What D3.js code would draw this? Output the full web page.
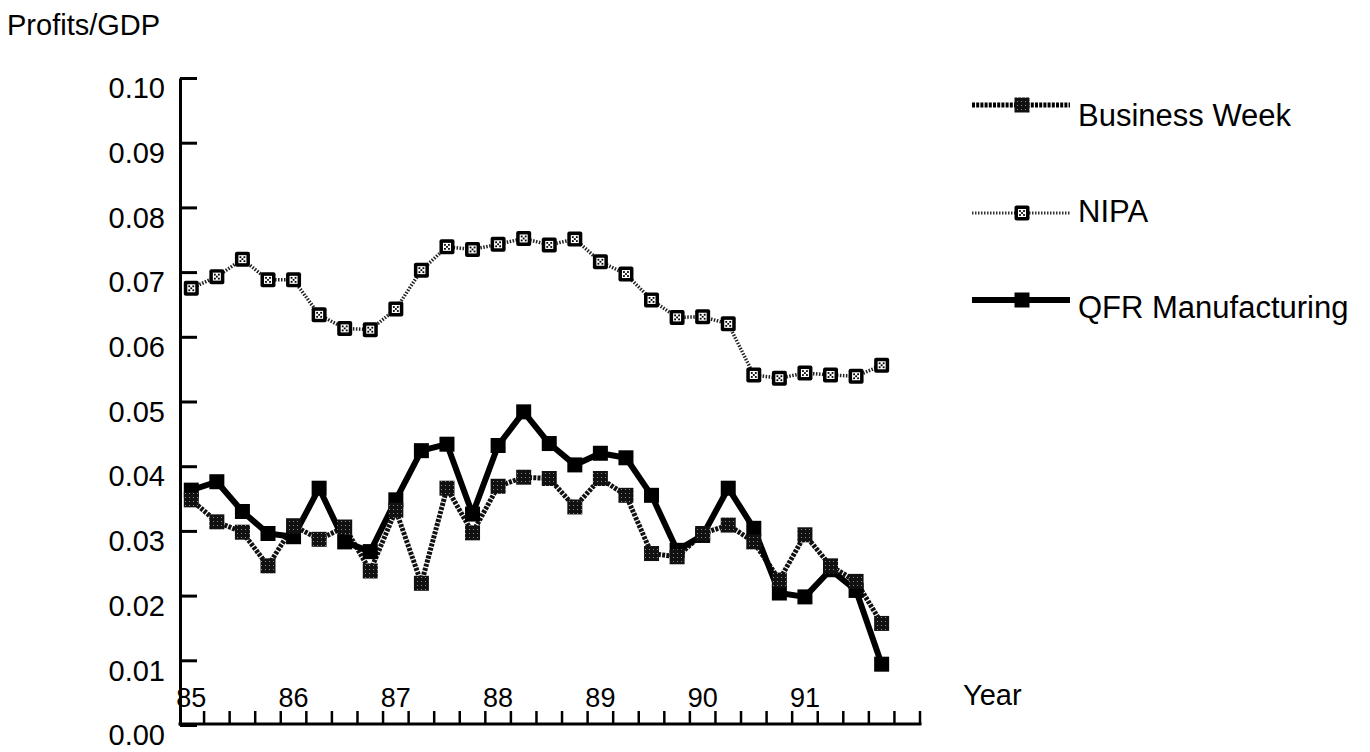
<!DOCTYPE html>
<html>
<head>
<meta charset="utf-8">
<script src="https://cdn.jsdelivr.net/npm/d3@7"></script>
<style>
  body { margin: 0; background: #fff; }
  text { font-family: "Liberation Sans", Arial, sans-serif; fill: #000; }
</style>
</head>
<body>
<div id="graph"></div>
<script>
// quarters 85Q1 .. 92Q1 (last one has no data)
var quarters = ["85Q1","85Q2","85Q3","85Q4","86Q1","86Q2","86Q3","86Q4",
  "87Q1","87Q2","87Q3","87Q4","88Q1","88Q2","88Q3","88Q4",
  "89Q1","89Q2","89Q3","89Q4","90Q1","90Q2","90Q3","90Q4",
  "91Q1","91Q2","91Q3","91Q4","92Q1"];
var yearLabels = ["85","86","87","88","89","90","91"];
var yTicks = [0.00,0.01,0.02,0.03,0.04,0.05,0.06,0.07,0.08,0.09,0.10];

var nipa = [0.0675,0.0693,0.0720,0.0688,0.0688,0.0634,0.0613,0.0611,
  0.0643,0.0703,0.0739,0.0735,0.0743,0.0752,0.0742,0.0751,
  0.0716,0.0697,0.0657,0.0630,0.0631,0.0620,0.0541,0.0536,
  0.0544,0.0541,0.0539,0.0556];
var businessWeek = [0.0348,0.0314,0.0298,0.0246,0.0308,0.0287,0.0306,0.0238,
  0.0332,0.0219,0.0366,0.0297,0.0369,0.0383,0.0381,0.0337,
  0.0381,0.0355,0.0265,0.0260,0.0296,0.0309,0.0283,0.0224,
  0.0294,0.0246,0.0222,0.0157];
var qfr = [0.0363,0.0376,0.0330,0.0296,0.0291,0.0366,0.0283,0.0268,
  0.0348,0.0424,0.0434,0.0326,0.0432,0.0484,0.0435,0.0402,
  0.0420,0.0413,0.0355,0.0270,0.0293,0.0366,0.0304,0.0204,
  0.0198,0.0240,0.0208,0.0094];
var seriesNames = ["Business Week","NIPA","QFR Manufacturing"];

var svg = d3.select("#graph").append("svg")
  .attr("width", 1370)
  .attr("height", 752);

var defs = svg.append("defs");
var speck = defs.append("pattern")
  .attr("id","speck").attr("patternUnits","userSpaceOnUse")
  .attr("width",4).attr("height",4);
speck.append("rect").attr("width",4).attr("height",4).attr("fill","#111");
speck.append("rect").attr("x",1).attr("y",1).attr("width",1).attr("height",1).attr("fill","#888");

var x = d3.scaleBand().domain(quarters).range([178.5, 920]).padding(0);
var y = d3.scaleLinear().domain([0, 0.10]).range([725, 78]);
var cx = function(i){ return x(quarters[i]) + x.bandwidth()/2; };

// y axis, ticks pointing inward
var yAxis = svg.append("g")
  .attr("transform","translate(180,0)")
  .call(d3.axisLeft(y).tickValues(yTicks).tickSize(-17).tickSizeOuter(0)
    .tickPadding(15).tickFormat(d3.format(".2f")));
yAxis.select(".domain").attr("stroke","#000").attr("stroke-width",3);
yAxis.selectAll(".tick line").attr("stroke","#000").attr("stroke-width",3);
yAxis.selectAll(".tick text")
  .attr("dy","0.68em")
  .style("font-size","29px")
  .style("font-family","'Liberation Sans', Arial, sans-serif");

// x axis baseline and ticks between quarters
svg.append("line")
  .attr("x1",178.5).attr("x2",921.5)
  .attr("y1",724).attr("y2",724)
  .attr("stroke","#000").attr("stroke-width",3);
svg.selectAll(".xtick")
  .data(quarters)
  .enter().append("line")
  .attr("class","xtick")
  .attr("x1",function(d){ return x(d) + x.bandwidth(); })
  .attr("x2",function(d){ return x(d) + x.bandwidth(); })
  .attr("y1",724).attr("y2",711)
  .attr("stroke","#000").attr("stroke-width",2.5);

svg.selectAll(".year")
  .data(yearLabels)
  .enter().append("text")
  .attr("class","year")
  .attr("x",function(d){ return x(d + "Q1") + x.bandwidth()/2; })
  .attr("y",707)
  .attr("text-anchor","middle")
  .style("font-size","27px")
  .text(function(d){ return d; });

svg.append("text").attr("x",963).attr("y",705)
  .style("font-size","29px").text("Year");
svg.append("text").attr("x",7).attr("y",35)
  .style("font-size","29px").text("Profits/GDP");

var line = d3.line()
  .x(function(d,i){ return cx(i); })
  .y(function(d){ return y(d); });

svg.append("path").datum(nipa)
  .attr("d",line).attr("fill","none")
  .attr("stroke","#222").attr("stroke-width",3.5)
  .attr("stroke-dasharray","1.5,1.5");
svg.append("path").datum(businessWeek)
  .attr("d",line).attr("fill","none")
  .attr("stroke","#111").attr("stroke-width",5)
  .attr("stroke-dasharray","3,1.2");
svg.append("path").datum(qfr)
  .attr("d",line).attr("fill","none")
  .attr("stroke","#000").attr("stroke-width",6)
  .attr("stroke-linejoin","round");

function nipaMark(g){
  g.append("rect").attr("x",-7.5).attr("y",-7.5).attr("width",15).attr("height",15)
    .attr("rx",2).attr("fill","#000");
  g.append("rect").attr("x",-4).attr("y",-4).attr("width",8).attr("height",8)
    .attr("fill","#fff");
  [[-2,-2],[2,-2],[0,0],[-2,2],[2,2]].forEach(function(p){
    g.append("rect").attr("x",p[0]-0.9).attr("y",p[1]-0.9)
      .attr("width",1.8).attr("height",1.8).attr("fill","#000");
  });
}

svg.selectAll(".nipa")
  .data(nipa)
  .enter().append("g")
  .attr("class","nipa")
  .attr("transform",function(d,i){ return "translate(" + cx(i) + "," + y(d) + ")"; })
  .each(function(){ nipaMark(d3.select(this)); });

svg.selectAll(".qfr")
  .data(qfr)
  .enter().append("rect")
  .attr("class","qfr")
  .attr("x",function(d,i){ return cx(i) - 7.5; })
  .attr("y",function(d){ return y(d) - 7.5; })
  .attr("width",15).attr("height",15)
  .attr("fill","#000");

svg.selectAll(".bw")
  .data(businessWeek)
  .enter().append("rect")
  .attr("class","bw")
  .attr("x",function(d,i){ return cx(i) - 7.5; })
  .attr("y",function(d){ return y(d) - 7.5; })
  .attr("width",15).attr("height",15)
  .attr("fill","url(#speck)");

// legend
var legendLineY = [105, 213, 300];
var legendTextY = [126, 222, 318];
var lg = svg.selectAll(".legend")
  .data(seriesNames)
  .enter().append("g")
  .attr("class","legend");
lg.append("line")
  .attr("x1",972).attr("x2",1070)
  .attr("y1",function(d,i){ return legendLineY[i]; })
  .attr("y2",function(d,i){ return legendLineY[i]; })
  .attr("stroke",function(d,i){ return i==1 ? "#333" : "#000"; })
  .attr("stroke-width",function(d,i){ return i==0 ? 5 : (i==1 ? 3 : 6); })
  .attr("stroke-dasharray",function(d,i){ return i==0 ? "3,1.2" : (i==1 ? "1.5,1.5" : null); });
lg.each(function(d,i){
  var g = d3.select(this);
  if(i==1){
    var m = g.append("g").attr("transform","translate(1022," + legendLineY[i] + ")");
    nipaMark(m);
  } else {
    g.append("rect").attr("x",1014.5).attr("y",legendLineY[i]-7.5)
      .attr("width",15).attr("height",15)
      .attr("fill", i==0 ? "url(#speck)" : "#000");
  }
});
lg.append("text")
  .attr("x",1078)
  .attr("y",function(d,i){ return legendTextY[i]; })
  .style("font-size","31px")
  .text(function(d){ return d; });
</script>
</body>
</html>
